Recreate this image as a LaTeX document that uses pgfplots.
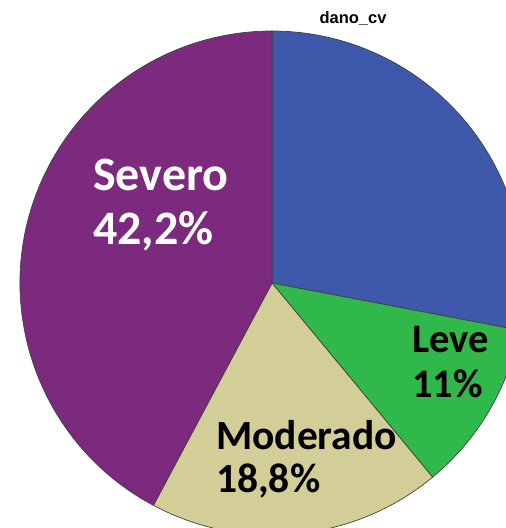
\documentclass[border=0pt]{standalone}
\usepackage{pgfplots}
\pgfplotsset{compat=1.18}
\usepackage{pgfplotstable}
\usepackage{fontspec}
\setmainfont{Carlito}
\newfontfamily\arialfont{Liberation Sans}
\definecolor{cBlue}{HTML}{3E58AC}
\definecolor{cGreen}{HTML}{30B84A}
\definecolor{cBeige}{HTML}{D3CD97}
\definecolor{cPurple}{HTML}{7B2A7E}

% slices clockwise from 12 o'clock
\pgfplotstableread{
name     pct   col
Outro    28.0  cBlue
Leve     11.0  cGreen
Moderado 18.8  cBeige
Severo   42.2  cPurple
}\piedata

\begin{document}
\begin{tikzpicture}
\begin{axis}[name=ax, width=506pt, height=528pt, scale only axis,
  xmin=0, xmax=506, ymin=0, ymax=528, y dir=reverse, hide axis, clip=true]
\pgfplotsextra{
  \gdef\cum{0}
  \foreach \i in {0,...,3}{
    \pgfplotstablegetelem{\i}{pct}\of\piedata \let\p\pgfplotsretval
    \pgfplotstablegetelem{\i}{col}\of\piedata \let\c\pgfplotsretval
    \pgfmathsetmacro\a{90-3.6*\cum}
    \pgfmathsetmacro\b{\a-3.6*\p}
    \fill[\c, draw=black!75, line width=0.7pt] (axis cs:272,283) -- ++(\a:252pt)
      arc[start angle=\a, end angle=\b, radius=252pt] -- cycle;
    \pgfmathsetmacro\newcum{\cum+\p}\xdef\cum{\newcum}
  }
}
\node[anchor=base, font=\arialfont\bfseries\fontsize{16.5}{19}\selectfont] at (axis cs:353,23) {dano\_cv};
\node[anchor=base west, white, font=\bfseries\fontsize{48}{54}\selectfont, inner sep=0pt] at (axis cs:93,190) {Severo};
\node[anchor=base west, white, font=\bfseries\fontsize{48}{54}\selectfont, inner sep=0pt] at (axis cs:93,244) {42,2\%};
\node[anchor=base west, font=\bfseries\fontsize{40.5}{45}\selectfont, inner sep=0pt] at (axis cs:412,352) {Leve};
\node[anchor=base west, font=\bfseries\fontsize{40.5}{45}\selectfont, inner sep=0pt] at (axis cs:412,397) {11\%};
\node[anchor=base west, font=\bfseries\fontsize{41.5}{46}\selectfont, inner sep=0pt] at (axis cs:216,449) {Moderado};
\node[anchor=base west, font=\bfseries\fontsize{41.5}{46}\selectfont, inner sep=0pt] at (axis cs:216,492) {18,8\%};
\end{axis}
\pgfresetboundingbox
\path (ax.south west) rectangle (ax.north east);
\end{tikzpicture}
\end{document}
